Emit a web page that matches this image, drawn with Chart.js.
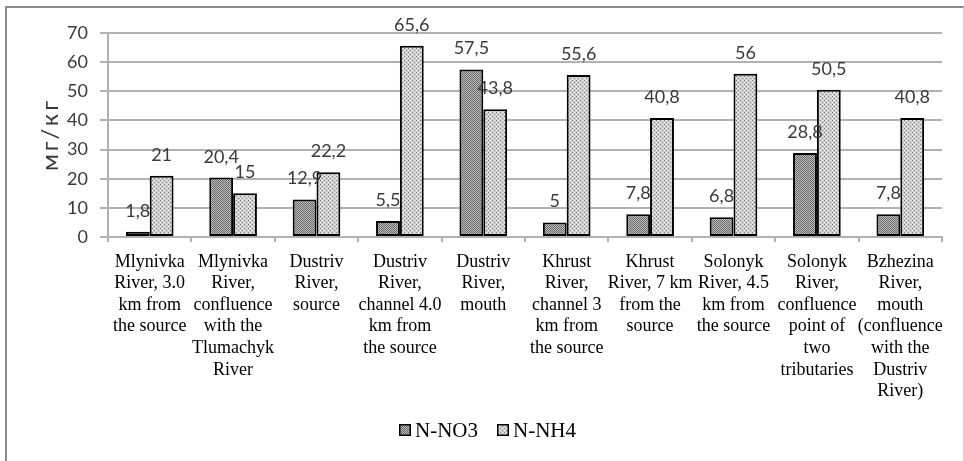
<!DOCTYPE html>
<html>
<head>
<meta charset="utf-8">
<script src="https://cdn.jsdelivr.net/npm/chart.js@4/dist/chart.umd.min.js"></script>
<style>
  html, body { margin: 0; padding: 0; background: #fff; }
  #wrap { width: 964px; height: 461px; }
</style>
</head>
<body>
<div id="wrap"><canvas id="c" width="964" height="461"></canvas></div>
<script>
// Sampling sites (wrapped as multi-line axis labels)
const categories = [
  ["Mlynivka", "River, 3.0", "km from", "the source"],
  ["Mlynivka", "River,", "confluence", "with the", "Tlumachyk", "River"],
  ["Dustriv", "River,", "source"],
  ["Dustriv", "River,", "channel 4.0", "km from", "the source"],
  ["Dustriv", "River,", "mouth"],
  ["Khrust", "River,", "channel 3", "km from", "the source"],
  ["Khrust", "River, 7 km", "from the", "source"],
  ["Solonyk", "River, 4.5", "km from", "the source"],
  ["Solonyk", "River,", "confluence", "point of", "two", "tributaries"],
  ["Bzhezina", "River,", "mouth", "(confluence", "with the", "Dustriv", "River)"]
];

// Nitrogen content, mg/kg
const nitrateN  = [1.8, 20.4, 12.9, 5.5, 57.5, 5, 7.8, 6.8, 28.8, 7.8];
const ammoniumN = [21, 15, 22.2, 65.6, 43.8, 55.6, 40.8, 56, 50.5, 40.8];

const seriesNames = ["N-NO3", "N-NH4"];
const yAxisTitle = "мг/кг";
const yMin = 0, yMax = 70, yStep = 10;

const canvas = document.getElementById("c");
const ctx = canvas.getContext("2d");

// Small bitmap tiles used as textured fills for the bars
function makePattern(size, paint) {
  const tile = document.createElement("canvas");
  tile.width = tile.height = size;
  const g = tile.getContext("2d");
  paint(g);
  return ctx.createPattern(tile, "repeat");
}
const nitrateFill = makePattern(2, g => {
  g.fillStyle = "#b8b8b8"; g.fillRect(0, 0, 2, 2);
  g.fillStyle = "#6e6e6e"; g.fillRect(0, 0, 1, 1); g.fillRect(1, 1, 1, 1);
});
const ammoniumFill = makePattern(4, g => {
  g.fillStyle = "#d0d0d0"; g.fillRect(0, 0, 4, 4);
  g.fillStyle = "#7e7e7e";
  g.fillRect(0, 0, 1, 1); g.fillRect(2, 2, 1, 1);
  g.fillStyle = "#f6f6f6";
  g.fillRect(2, 0, 1, 1); g.fillRect(0, 2, 1, 1);
});

const fmt = v => String(v).replace(".", ",");

// Value labels above each bar
const valueLabels = {
  id: "valueLabels",
  afterDatasetsDraw(chart) {
    const c = chart.ctx;
    c.save();
    c.font = "18px Lato";
    c.fillStyle = "#3a3a3a";
    c.textAlign = "center";
    c.textBaseline = "alphabetic";
    chart.data.datasets.forEach((ds, di) => {
      const meta = chart.getDatasetMeta(di);
      meta.data.forEach((bar, i) => {
        c.fillText(fmt(ds.data[i]), bar.x, bar.y - 15);
      });
    });
    c.restore();
  }
};

// Frame, rotated unit title and the legend row beneath the labels
const frameAndLegend = {
  id: "frameAndLegend",
  beforeDraw(chart) {
    const c = chart.ctx;
    c.save();
    c.fillStyle = "#fff";
    c.fillRect(0, 0, chart.width, chart.height);
    c.strokeStyle = "#8a8a8a";
    c.lineWidth = 2;
    c.beginPath();
    c.moveTo(6, chart.height + 2);
    c.lineTo(6, 7);
    c.lineTo(chart.width + 2, 7);
    c.stroke();
    c.strokeStyle = "#cfcfcf";
    c.lineWidth = 1;
    c.beginPath();
    c.moveTo(963.5, 7);
    c.lineTo(963.5, chart.height);
    c.stroke();
    c.restore();
  },
  afterDraw(chart) {
    const c = chart.ctx;
    c.save();
    // unit title on the value axis
    const area = chart.chartArea;
    c.translate(50, (area.top + area.bottom) / 2 - 3);
    c.rotate(-Math.PI / 2);
    c.font = "24px Lato";
    c.letterSpacing = "3px";
    c.fillStyle = "#3a3a3a";
    c.textAlign = "center";
    c.textBaseline = "middle";
    c.fillText(yAxisTitle, -2.5, 0);
    c.restore();

    c.save();
    c.font = "21px 'Liberation Serif'";
    c.textBaseline = "middle";
    c.textAlign = "left";
    const starts = [399, 497];
    chart.data.datasets.forEach((ds, di) => {
      const x = starts[di], y = 424;
      c.fillStyle = ds.backgroundColor;
      c.fillRect(x, y, 12, 12);
      c.strokeStyle = "#000";
      c.lineWidth = 1.5;
      c.strokeRect(x + 0.75, y + 0.75, 10.5, 10.5);
      c.fillStyle = "#000";
      c.fillText(ds.label, x + 16, y + 7);
    });
    c.restore();
  }
};

const gridColor = "#b2b2b2";

new Chart(ctx, {
  type: "bar",
  data: {
    labels: categories,
    datasets: [
      {
        label: seriesNames[0],
        data: nitrateN,
        backgroundColor: nitrateFill,
        borderColor: "#000",
        borderWidth: 2,
        borderSkipped: false
      },
      {
        label: seriesNames[1],
        data: ammoniumN,
        backgroundColor: ammoniumFill,
        borderColor: "#000",
        borderWidth: 2,
        borderSkipped: false
      }
    ]
  },
  options: {
    responsive: false,
    animation: false,
    devicePixelRatio: 1,
    layout: { padding: { left: 0, top: 33, right: 22, bottom: 0 } },
    datasets: { bar: { categoryPercentage: 2 / 3.5, barPercentage: 1 } },
    plugins: {
      legend: { display: false },
      tooltip: { enabled: false }
    },
    scales: {
      x: {
        afterFit(axis) { axis.height = 461 - 237; },
        grid: {
          offset: true,
          drawOnChartArea: false,
          drawTicks: true,
          tickLength: 5,
          color: gridColor,
          lineWidth: 2
        },
        border: { display: true, color: gridColor, width: 2 },
        ticks: {
          autoSkip: false,
          maxRotation: 0,
          minRotation: 0,
          padding: 9,
          color: "#000",
          font: { family: "'Liberation Serif'", size: 18, lineHeight: 1.2 }
        }
      },
      y: {
        min: yMin,
        max: yMax,
        afterFit(axis) { axis.width = 108; },
        grid: {
          color: gridColor,
          lineWidth: 2,
          tickLength: 8
        },
        border: { display: true, color: gridColor, width: 2 },
        ticks: {
          stepSize: yStep,
          padding: 12,
          color: "#3a3a3a",
          font: { family: "Lato", size: 18 }
        }
      }
    }
  },
  plugins: [frameAndLegend, valueLabels]
});
</script>
</body>
</html>
